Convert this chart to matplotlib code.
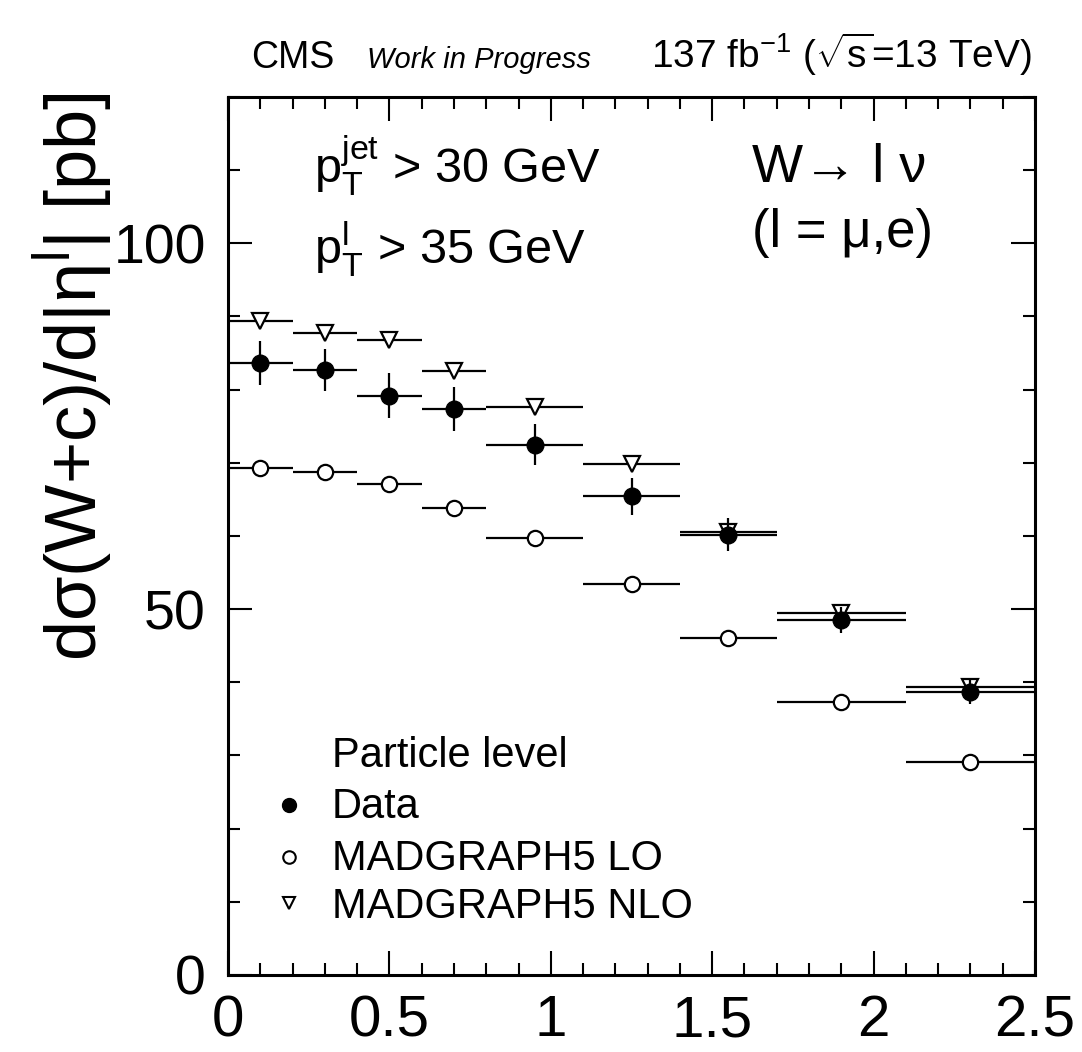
import matplotlib
matplotlib.use("Agg")
import matplotlib.pyplot as plt
import numpy as np
from matplotlib.ticker import MultipleLocator

plt.rcParams['font.family'] = ['Liberation Sans', 'DejaVu Sans']
plt.rcParams['mathtext.fontset'] = 'custom'
plt.rcParams['mathtext.rm'] = 'Liberation Sans'
plt.rcParams['mathtext.it'] = 'Liberation Sans:italic'
plt.rcParams['mathtext.bf'] = 'Liberation Sans:bold'

# bins in |eta^l|
bin_lo = [0.0, 0.2, 0.4, 0.6, 0.8, 1.1, 1.4, 1.7, 2.1]
bin_hi = [0.2, 0.4, 0.6, 0.8, 1.1, 1.4, 1.7, 2.1, 2.5]

# cross sections [pb]
data = [83.7, 82.7, 79.2, 77.4, 72.5, 65.4, 60.2, 48.5, 38.7]
data_err = [3.0, 2.9, 3.1, 3.0, 2.8, 2.5, 2.2, 1.8, 1.7]
mg_lo = [69.3, 68.7, 67.1, 63.8, 59.7, 53.4, 46.0, 37.3, 29.1]
mg_nlo = [89.4, 87.8, 86.8, 82.5, 77.6, 69.9, 60.6, 49.5, 39.3]

legend_labels = ['Data', 'MADGRAPH5 LO', 'MADGRAPH5 NLO']

lo_edges = np.array(bin_lo)
hi_edges = np.array(bin_hi)
xc = (lo_edges + hi_edges) / 2
xw = (hi_edges - lo_edges) / 2

fig = plt.figure(figsize=(10.82, 10.52), dpi=100)
ax = fig.add_axes([0.2107, 0.0732, 0.7459, 0.8346])

lw = 1.6
ax.errorbar(xc, mg_lo, xerr=xw, fmt='o', color='black', mfc='white', mec='black',
            ms=11, mew=1.6, elinewidth=lw, capsize=0, zorder=3)
ax.errorbar(xc, mg_nlo, xerr=xw, fmt='v', color='black', mfc='white', mec='black',
            ms=12, mew=1.6, elinewidth=lw, capsize=0, zorder=4)
ax.errorbar(xc, data, xerr=xw, yerr=data_err, fmt='o', color='black', mfc='black',
            ms=12, elinewidth=lw, capsize=0, zorder=5)

ax.set_xlim(0, 2.5)
ax.set_ylim(0, 120)
ax.xaxis.set_minor_locator(MultipleLocator(0.1))
ax.yaxis.set_major_locator(MultipleLocator(50))
ax.yaxis.set_minor_locator(MultipleLocator(10))
ax.set_xticks([0, 0.5, 1, 1.5, 2, 2.5])
ax.set_xticklabels(['0', '0.5', '1', '1.5', '2', '2.5'])
ax.tick_params(which='both', direction='in', top=True, right=True, width=1.5)
ax.tick_params(which='major', length=17)
ax.tick_params(which='minor', length=8.5)
ax.tick_params(axis='x', labelsize=42, pad=14)
ax.tick_params(axis='y', labelsize=40, pad=16)
for s in ax.spines.values():
    s.set_linewidth(2.2)

fig.text(0.068, 0.912, 'dσ(W+c)/d|η$^{\\mathrm{l}}$| [pb]', rotation=90,
         ha='center', va='top', fontsize=52)

# header
fig.text(0.232, 0.935, 'CMS', fontsize=27, ha='left', va='baseline')
fig.text(0.339, 0.935, 'Work in Progress', fontsize=21, style='italic',
         ha='left', va='baseline')
fig.text(0.954, 0.935, r'137 fb$^{-1}$ ($\sqrt{\mathrm{s}}$=13 TeV)', fontsize=28,
         ha='right', va='baseline')

# cuts and channel
ax.text(0.107, 0.902, r'p$_{\mathrm{T}}^{\mathrm{jet}}$ > 30 GeV', transform=ax.transAxes,
        fontsize=35, ha='left', va='baseline')
ax.text(0.107, 0.81, r'p$_{\mathrm{T}}^{\mathrm{l}}$ > 35 GeV', transform=ax.transAxes,
        fontsize=35, ha='left', va='baseline')
ax.text(0.649, 0.903, 'W\u2192 l ν', transform=ax.transAxes,
        fontsize=39, ha='left', va='baseline')
ax.text(0.649, 0.829, '(l = μ,e)', transform=ax.transAxes,
        fontsize=38, ha='left', va='baseline')

# legend block
ax.text(0.129, 0.237, 'Particle level', transform=ax.transAxes, fontsize=30,
        ha='left', va='baseline')
leg_style = [dict(marker='o', mfc='black', mec='black', ms=10),
             dict(marker='o', mfc='white', mec='black', ms=9, mew=1.5),
             dict(marker='v', mfc='white', mec='black', ms=9, mew=1.5)]
leg_marker_y = [0.1936, 0.1344, 0.082]
leg_text_y = [0.179, 0.1196, 0.065]
for style, my, ty, label in zip(leg_style, leg_marker_y, leg_text_y, legend_labels):
    ax.plot([0.0756], [my], ls='none', transform=ax.transAxes, clip_on=False, **style)
    ax.text(0.129, ty, label, transform=ax.transAxes, fontsize=30,
            ha='left', va='baseline')

fig.savefig('out.png', dpi=100)
